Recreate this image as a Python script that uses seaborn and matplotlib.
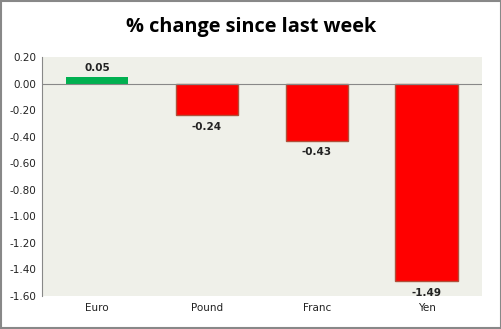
import matplotlib
matplotlib.use("Agg")
import matplotlib.pyplot as plt
import seaborn as sns
import pandas as pd
from matplotlib.patches import Rectangle

categories = ["Euro", "Pound", "Franc", "Yen"]
values = [0.05, -0.24, -0.43, -1.49]
labels = ["0.05", "-0.24", "-0.43", "-1.49"]
yticks = [0.20, 0.00, -0.20, -0.40, -0.60, -0.80, -1.00, -1.20, -1.40, -1.60]

sns.set_theme(style="white")
plt.rcParams['font.family'] = ['DejaVu Sans']

df = pd.DataFrame({"cat": categories, "val": values})
colors = ["#00B050" if v >= 0 else "#FF0000" for v in values]

fig = plt.figure(figsize=(5.02, 3.29), dpi=100)
fig.patch.set_facecolor("white")
ax = fig.add_axes([0.0837, 0.1003, 0.876, 0.7264])
ax.set_facecolor("#EFF0E9")

sns.barplot(data=df, x="cat", y="val", hue="cat", palette=colors, legend=False,
            width=0.57, ax=ax, saturation=1)
for p, v in zip(ax.patches, values):
    if v < 0:
        p.set_edgecolor("#B0503A")
        p.set_linewidth(1.0)
    else:
        p.set_edgecolor("none")

ax.set_ylim(-1.6, 0.2)
ax.set_xlim(-0.5, 3.5)
ax.set_yticks(yticks)
ax.set_yticklabels([f"{t:.2f}" for t in yticks], fontsize=7.5, color="#222222")
ax.tick_params(axis="x", labelsize=7.5, colors="#222222", length=0, pad=5)
ax.tick_params(axis="y", length=0, pad=4)
ax.set_xlabel("")
ax.set_ylabel("")
for s in ["top", "right", "bottom"]:
    ax.spines[s].set_visible(False)
ax.spines["left"].set_color("#888888")
ax.spines["left"].set_linewidth(0.8)
ax.axhline(0, color="#888888", lw=0.8, zorder=3)

for i, (v, lab) in enumerate(zip(values, labels)):
    if v >= 0:
        ax.text(i, v + 0.03, lab, ha="center", va="bottom", fontsize=7.5, fontweight="bold", color="#222222")
    else:
        ax.text(i, v - 0.05, lab, ha="center", va="top", fontsize=7.5, fontweight="bold", color="#222222")

fig.text(0.5, 0.917, "% change since last week", ha="center", va="center",
         fontsize=14.3, fontweight="bold", family="Open Sans", color="black")

fig.patches.append(Rectangle((0.001, 0.002), 0.997, 0.995, transform=fig.transFigure,
                             fill=False, edgecolor="#888888", lw=1.5))

fig.savefig("out.png", dpi=100)
